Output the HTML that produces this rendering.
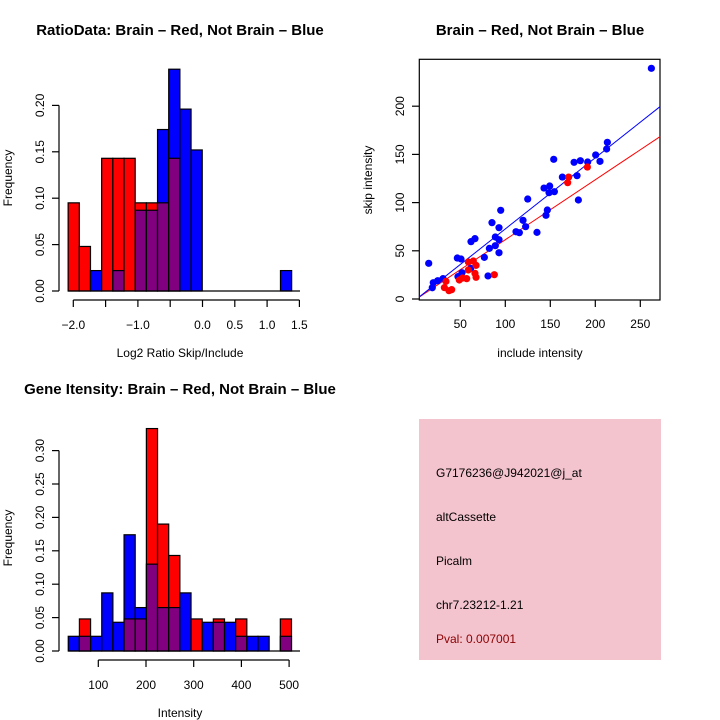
<!DOCTYPE html>
<html><head><meta charset="utf-8"><style>
body{margin:0;background:#fff}
svg{display:block;font-family:"Liberation Sans",sans-serif}
</style></head><body>
<svg id="s" width="720" height="720" viewBox="0 0 720 720">
<rect x="0" y="0" width="720" height="720" fill="#fff"/>
<g id="p1"></g>
<g id="p2"></g>
<g id="p3"></g>
<g>
<rect x="419" y="419" width="242" height="241" fill="#f3c3ce"/>
<text x="436" y="477" font-size="12">G7176236@J942021@j_at</text>
<text x="436" y="521" font-size="12">altCassette</text>
<text x="436" y="565" font-size="12">Picalm</text>
<text x="436" y="609" font-size="12">chr7.23212-1.21</text>
<text x="436" y="643" font-size="12" fill="#8b0000">Pval: 0.007001</text>
</g>
</svg>
<script>
// ---- Ratio histogram data ----
const ratioBreakStart = -2.08;
const ratioBinWidth = 0.173;
const ratioRed = [0.095,0.048,0,0.143,0.143,0.143,0.095,0.095,0.095,0.143,0,0,0,0,0,0,0,0,0,0];
const ratioBlue = [0,0,0.022,0,0.022,0,0.087,0.087,0.174,0.239,0.196,0.152,0,0,0,0,0,0,0,0.022];
const ratioXTicks = [-2,-1.5,-1,-0.5,0,0.5,1,1.5];
const ratioXLabels = ["-2.0","","-1.0","","0.0","0.5","1.0","1.5"];
const ratioYTicks = [0,0.05,0.1,0.15,0.2];
const ratioYLabels = ["0.00","0.05","0.10","0.15","0.20"];
// ---- Gene intensity histogram data ----
const intBreakStart = 37;
const intBinWidth = 23.4;
const intRed = [0,0.048,0,0,0,0.048,0.048,0.333,0.190,0.143,0,0.048,0,0.048,0,0.048,0,0,0,0.048];
const intBlue = [0.022,0.022,0.022,0.087,0.043,0.174,0.065,0.130,0.065,0.065,0.087,0,0.043,0.043,0.043,0.022,0.022,0.022,0,0.022];
const intXTicks = [100,200,300,400,500];
const intYTicks = [0,0.05,0.1,0.15,0.2,0.25,0.3];
const intYLabels = ["0.00","0.05","0.10","0.15","0.20","0.25","0.30"];
// ---- Scatter data ----
const blueX = [262.3,14.9,213.4,212.6,200.4,205.2,176.4,183.4,191.5,153.8,163.4,179.7,143.0,149.3,148.6,154.5,124.9,181.2,94.9,146.7,145.2,85.2,93.0,119.7,122.6,111.9,115.6,135.2,88.9,93.0,61.9,66.3,82.3,88.9,76.7,46.7,50.8,93.0,61.5,51.9,47.4,80.8,30.8,24.9,20.0,18.9];
const blueY = [239.3,37.0,162.5,155.6,149.4,142.8,141.8,143.5,142.1,144.9,126.5,127.9,115.1,117.2,110.3,111.3,103.7,102.7,92.0,92.3,86.8,79.2,74.0,81.6,75.0,69.8,68.8,69.1,64.3,61.5,59.5,62.6,52.5,55.3,43.2,42.5,41.5,48.0,31.8,27.3,23.2,23.9,21.1,19.0,16.9,11.7];
const redX = [191.2,170.4,169.3,58.9,64.5,67.5,58.9,66.3,67.5,57.1,52.6,48.9,87.8,34.1,32.3,37.4,40.4];
const redY = [136.9,126.5,120.7,38.4,39.4,34.9,30.1,26.6,22.5,21.1,21.8,19.7,25.2,18.3,11.8,8.6,9.7];
const blueFit = [-1.1,0.738];
const redFit = [-0.7,0.622];
const scXTicks = [50,100,150,200,250];
const scYTicks = [0,50,100,150,200];

const NS='http://www.w3.org/2000/svg';
function mk(parent,tag,attrs,text){const e=document.createElementNS(NS,tag);for(const k in attrs)e.setAttribute(k,attrs[k]);if(text!==undefined)e.textContent=text;parent.appendChild(e);return e;}

function histogram(g,o){
  const X=v=>o.x0+(v-o.xv0)*o.xs, Y=v=>o.y0-v*o.ys;
  const n=o.red.length;
  for(let i=0;i<n;i++){
    const a=o.bs+i*o.bw,b=a+o.bw,r=o.red[i],bl=o.blue[i];
    const mx=Math.max(r,bl),mn=Math.min(r,bl);
    if(mx>0){
      const rc=mk(g,'rect',{x:X(a),y:Y(mx),width:X(b)-X(a),height:Y(0)-Y(mx),fill:r>=bl?'#ff0000':'#0000ff',stroke:'#000','stroke-width':1.2});
      
      
    }
    if(mn>0){
      const pc=mk(g,'rect',{x:X(a),y:Y(mn),width:X(b)-X(a),height:Y(0)-Y(mn),fill:'#800080',stroke:'#000','stroke-width':1.2});
      
      
    }
  }
  const bl=mk(g,'line',{x1:X(o.bs),x2:o.baseEnd,y1:Y(0),y2:Y(0),stroke:'#000','stroke-width':1.2});
  
  
  const xa=mk(g,'g',{});
  
  
  mk(xa,'line',{x1:X(o.xt[0]),x2:X(o.xt[o.xt.length-1]),y1:o.xaxY,y2:o.xaxY,stroke:'#000','stroke-width':1.2});
  o.xt.forEach((t,i)=>{mk(xa,'line',{x1:X(t),x2:X(t),y1:o.xaxY,y2:o.xaxY+7,stroke:'#000','stroke-width':1.2});
    const lab=o.xl?o.xl[i]:String(t);if(lab){const tx=mk(xa,'text',{x:X(t),y:o.xaxY+29,'font-size':12,'text-anchor':'middle'},lab.replace('-','\u2212'));
    
    }});
  const ya=mk(g,'g',{});
  
  
  mk(ya,'line',{x1:59,x2:59,y1:Y(o.yt[o.yt.length-1]),y2:Y(0),stroke:'#000','stroke-width':1.2});
  o.yt.forEach((t,i)=>{mk(ya,'line',{x1:52,x2:59,y1:Y(t),y2:Y(t),stroke:'#000','stroke-width':1.2});
    const tx=mk(ya,'text',{x:44,y:Y(t),'font-size':12,'text-anchor':'middle',transform:`rotate(-90 44 ${Y(t)})`},o.yl[i]);
    
    });
  const t1=mk(g,'text',{x:o.titleX,y:o.titleY,'font-size':15,'font-weight':'bold','text-anchor':'middle'},o.title);
  
  
  const t2=mk(g,'text',{x:180,y:o.xlabY,'font-size':12,'text-anchor':'middle'},o.xlab);
  
  
  const t3=mk(g,'text',{x:12,y:o.ylabY,'font-size':12,'text-anchor':'middle',transform:`rotate(-90 12 ${o.ylabY})`},'Frequency');
  
  
}
histogram(document.getElementById('p1'),{x0:73.3,xv0:-2,xs:64.6,y0:291,ys:928,red:ratioRed,blue:ratioBlue,bs:ratioBreakStart,bw:ratioBinWidth,baseEnd:300,
  xt:ratioXTicks,xl:ratioXLabels,xaxY:300,yt:ratioYTicks,yl:ratioYLabels,title:'RatioData: Brain \u2013 Red, Not Brain \u2013 Blue',titleX:180,titleY:35,xlab:'Log2 Ratio Skip/Include',xlabY:357,ylabY:178});
histogram(document.getElementById('p3'),{x0:98.3,xv0:100,xs:0.477,y0:651,ys:668,red:intRed,blue:intBlue,bs:intBreakStart,bw:intBinWidth,baseEnd:300,
  xt:intXTicks,xl:null,xaxY:660,yt:intYTicks,yl:intYLabels,title:'Gene Itensity: Brain \u2013 Red, Not Brain \u2013 Blue',titleX:180,titleY:394,xlab:'Intensity',xlabY:717,ylabY:538});

(function(){
  const g=document.getElementById('p2');
  const X=v=>415.3+v*0.9, Y=v=>299-v*0.964;
  const xmin=4.4,xmax=272;
  mk(g,'rect',{x:419.3,y:59.3,width:240.7,height:240.7,fill:'none',stroke:'#000','stroke-width':1.2});
  const xa=mk(g,'g',{});
  
  
  scXTicks.forEach(t=>{mk(xa,'line',{x1:X(t),x2:X(t),y1:300,y2:307,stroke:'#000','stroke-width':1.2});
    const tx=mk(xa,'text',{x:X(t),y:328,'font-size':12,'text-anchor':'middle'},String(t));
    
    });
  const ya=mk(g,'g',{});
  
  
  scYTicks.forEach(t=>{mk(ya,'line',{x1:412,x2:419.3,y1:Y(t),y2:Y(t),stroke:'#000','stroke-width':1.2});
    const tx=mk(ya,'text',{x:404,y:Y(t),'font-size':12,'text-anchor':'middle',transform:`rotate(-90 404 ${Y(t)})`},String(t));
    
    });
  [[redFit,'#ff0000','red-fit-line'],[blueFit,'#0000ff','blue-fit-line']].forEach(([f,c,n])=>{
    const l=mk(g,'line',{x1:X(xmin),y1:Y(f[0]+f[1]*xmin),x2:X(xmax),y2:Y(f[0]+f[1]*xmax),stroke:c,'stroke-width':1});
    
    });
  blueX.forEach((v,i)=>{const c=mk(g,'circle',{cx:X(v),cy:Y(blueY[i]),r:3.6,fill:'#0000ff'});
    
    });
  redX.forEach((v,i)=>{const c=mk(g,'circle',{cx:X(v),cy:Y(redY[i]),r:3.6,fill:'#ff0000'});
    
    });
  const t1=mk(g,'text',{x:540,y:35,'font-size':15,'font-weight':'bold','text-anchor':'middle'},'Brain \u2013 Red, Not Brain \u2013 Blue');
  
  
  const t2=mk(g,'text',{x:540,y:357,'font-size':12,'text-anchor':'middle'},'include intensity');
  
  
  const t3=mk(g,'text',{x:372,y:180,'font-size':12,'text-anchor':'middle',transform:'rotate(-90 372 180)'},'skip intensity');
  
  
})();
</script>
</body></html>
